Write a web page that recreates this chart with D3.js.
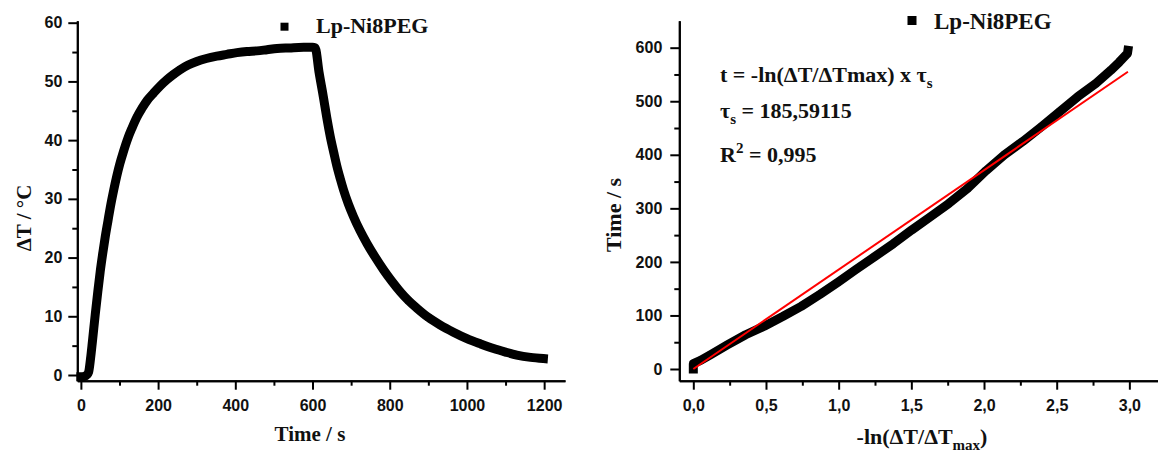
<!DOCTYPE html>
<html>
<head>
<meta charset="utf-8">
<script src="https://cdn.jsdelivr.net/npm/d3@7"></script>
<style>
  html, body { margin: 0; padding: 0; background: #fff; }
  svg { display: block; }
</style>
</head>
<body>
<svg id="chart" width="1158" height="452"></svg>
<script>
// ---------- DATA ----------
const seriesName = "Lp-Ni8PEG";

// Left panel: heating / cooling curve
const timeL = [0, 5, 10, 15, 20, 25, 30, 37, 44, 50, 57, 63, 70, 76, 85, 93, 101, 110, 121, 132, 145, 158, 172, 188, 205, 223, 240, 257, 278, 300, 325, 352, 378, 404, 430, 456, 482, 508, 540, 577, 600, 607, 617, 628, 637, 646, 655, 663, 672, 680, 693, 706, 723, 741, 762, 784, 805, 827, 848, 870, 900, 931, 965, 1000, 1035, 1069, 1100, 1129, 1165, 1198];
const deltaT = [-0.3, -0.3, -0.2, 0.0, 0.5, 2.8, 5.8, 10.2, 14.3, 17.6, 20.9, 23.5, 26.2, 28.5, 31.5, 33.9, 36.0, 38.0, 40.2, 42.0, 43.9, 45.4, 46.8, 48.0, 49.2, 50.3, 51.2, 52.0, 52.8, 53.4, 53.9, 54.3, 54.6, 54.9, 55.1, 55.2, 55.4, 55.6, 55.7, 55.8, 55.8, 55.7, 51.5, 47.4, 43.8, 40.6, 37.9, 35.6, 33.4, 31.6, 29.1, 27.0, 24.6, 22.4, 20.1, 17.9, 16.0, 14.2, 12.7, 11.4, 9.8, 8.5, 7.3, 6.2, 5.3, 4.5, 3.9, 3.4, 3.0, 2.8];

// Right panel: -ln(dT/dTmax) vs cooling time
const lnRatio = [0, 0, 0.05, 0.12, 0.234, 0.36, 0.488, 0.615, 0.742, 0.87, 0.995, 1.12, 1.249, 1.376, 1.503, 1.63, 1.757, 1.886, 2.013, 2.14, 2.267, 2.395, 2.52, 2.645, 2.77, 2.873, 2.93, 2.987, 2.99];
const timeR = [0, 10, 16, 27, 45, 64, 80, 98, 117, 139, 162, 186, 210, 234, 259.6, 284, 309, 337, 370, 400, 425, 452.5, 480.5, 508.5, 533.5, 558, 573, 589.5, 595];

// Linear fit (red line) endpoints
const fitX = [0, 2.99];
const fitY = [0, 555];

// Tick values and labels
const xTicksL = [0, 200, 400, 600, 800, 1000, 1200];
const xMinorL = [100, 300, 500, 700, 900, 1100];
const yTicksL = [0, 10, 20, 30, 40, 50, 60];
const yMinorL = [5, 15, 25, 35, 45, 55];
const xTicksR = [0, 0.5, 1.0, 1.5, 2.0, 2.5, 3.0];
const xTickLabelsR = ["0,0", "0,5", "1,0", "1,5", "2,0", "2,5", "3,0"];
const xMinorR = [0.25, 0.75, 1.25, 1.75, 2.25, 2.75];
const yTicksR = [0, 100, 200, 300, 400, 500, 600];
const yMinorR = [50, 150, 250, 350, 450, 550];

const annotation = {
  eq: "t = -ln(ΔT/ΔTmax) x τ",
  tau: " = 185,59115",
  r2: " = 0,995"
};

// ---------- DRAW ----------
const svg = d3.select("#chart");
const SANS = "'Liberation Sans', Arial, sans-serif";
const SERIF = "'Liberation Serif', 'Times New Roman', serif";

function styleAxis(g) {
  g.select(".domain").attr("stroke", "#000").attr("stroke-width", 2);
  g.selectAll(".tick line").attr("stroke", "#000").attr("stroke-width", 2);
  g.selectAll(".tick text")
    .attr("font-family", SANS).attr("font-weight", "bold")
    .attr("font-size", 16).attr("fill", "#111");
}

function panel(opts) {
  const { xs, ys, xTicks, xMinor, yTicks, yMinor, xFmt, yLabOff } = opts;
  const xBase = ys.range()[0];
  const yBase = xs.range()[0];
  const gxm = svg.append("g").attr("transform", `translate(0,${xBase})`)
    .call(d3.axisBottom(xs).tickValues(xMinor).tickSize(5).tickSizeOuter(0).tickFormat(""));
  const gym = svg.append("g").attr("transform", `translate(${yBase},0)`)
    .call(d3.axisLeft(ys).tickValues(yMinor).tickSize(5).tickSizeOuter(0).tickFormat(""));
  [gxm, gym].forEach(g => styleAxis(g));
  const gx = svg.append("g").attr("transform", `translate(0,${xBase})`)
    .call(d3.axisBottom(xs).tickValues(xTicks).tickSize(9).tickSizeOuter(0).tickFormat(xFmt));
  styleAxis(gx);
  gx.selectAll(".tick text").attr("y", 30).attr("dy", null);
  const gy = svg.append("g").attr("transform", `translate(${yBase},0)`)
    .call(d3.axisLeft(ys).tickValues(yTicks).tickSize(9).tickSizeOuter(0));
  styleAxis(gy);
  gy.selectAll(".tick text").attr("x", yLabOff);
}

// Left panel scales
const xL = d3.scaleLinear().domain([-9.3, 1254]).range([77.3, 565]);
const yL = d3.scaleLinear().domain([-0.97, 60.34]).range([380.7, 20.7]);
panel({ xs: xL, ys: yL, xTicks: xTicksL, xMinor: xMinorL, yTicks: yTicksL, yMinor: yMinorL,
        xFmt: d => d3.format("d")(d), yLabOff: -15 });

const dataL = timeL.map((t, i) => [t, deltaT[i]]);
svg.append("path").datum(dataL)
  .attr("d", d3.line().x(d => xL(d[0])).y(d => yL(d[1])).curve(d3.curveMonotoneX))
  .attr("fill", "none").attr("stroke", "#000").attr("stroke-width", 9)
  .attr("stroke-linejoin", "round").attr("stroke-linecap", "square");
svg.append("g").selectAll("rect").data(dataL).join("rect")
  .attr("x", d => xL(d[0]) - 3).attr("y", d => yL(d[1]) - 3)
  .attr("width", 6).attr("height", 6).attr("fill", "#000");

// Left labels
svg.append("text").attr("x", 310).attr("y", 441).attr("text-anchor", "middle")
  .attr("font-family", SERIF).attr("font-weight", "bold").attr("font-size", 21).attr("fill", "#111")
  .text("Time / s");
svg.append("text").attr("transform", "translate(31,218) rotate(-90)").attr("text-anchor", "middle")
  .attr("font-family", SERIF).attr("font-weight", "bold").attr("font-size", 21).attr("fill", "#111")
  .text("ΔT / °C");
// Left legend
svg.append("rect").attr("x", 280.5).attr("y", 22.7).attr("width", 8).attr("height", 8).attr("fill", "#000");
svg.append("text").attr("x", 316).attr("y", 33).attr("font-family", SERIF).attr("font-weight", "bold")
  .attr("font-size", 22).attr("fill", "#111").text(seriesName);

// Right panel scales
const xR = d3.scaleLinear().domain([-0.0964, 3.197]).range([679.3, 1158]);
const yR = d3.scaleLinear().domain([-21.85, 650.4]).range([380.7, 20.7]);
panel({ xs: xR, ys: yR, xTicks: xTicksR, xMinor: xMinorR, yTicks: yTicksR, yMinor: yMinorR,
        xFmt: (d, i) => xTickLabelsR[i], yLabOff: -17 });

const dataR = lnRatio.map((x, i) => [x, timeR[i]]);
svg.append("path").datum(dataR)
  .attr("d", d3.line().x(d => xR(d[0])).y(d => yR(d[1])))
  .attr("fill", "none").attr("stroke", "#000").attr("stroke-width", 9)
  .attr("stroke-linejoin", "round").attr("stroke-linecap", "square");
svg.append("g").selectAll("rect").data(dataR).join("rect")
  .attr("x", d => xR(d[0]) - 3).attr("y", d => yR(d[1]) - 3)
  .attr("width", 6).attr("height", 6).attr("fill", "#000");

// Fit line
const fitData = fitX.map((x, i) => [x, fitY[i]]);
svg.append("path").datum(fitData)
  .attr("d", d3.line().x(d => xR(d[0])).y(d => yR(d[1])))
  .attr("fill", "none").attr("stroke", "#ff0000").attr("stroke-width", 2);

// Right labels
const xlab = svg.append("text").attr("x", 922).attr("y", 444).attr("text-anchor", "middle")
  .attr("font-family", SERIF).attr("font-weight", "bold").attr("font-size", 22).attr("fill", "#111");
xlab.append("tspan").text("-ln(ΔT/ΔT");
xlab.append("tspan").attr("font-size", 15).attr("dy", 6).text("max");
xlab.append("tspan").attr("dy", -6).text(")");

svg.append("text").attr("transform", "translate(621,215) rotate(-90)").attr("text-anchor", "middle")
  .attr("font-family", SERIF).attr("font-weight", "bold").attr("font-size", 22).attr("fill", "#111")
  .text("Time / s");

// Right legend
svg.append("rect").attr("x", 907.5).attr("y", 16).attr("width", 9).attr("height", 9).attr("fill", "#000");
svg.append("text").attr("x", 934).attr("y", 29.3).attr("font-family", SERIF).attr("font-weight", "bold")
  .attr("font-size", 23).attr("fill", "#111").text(seriesName);

// Annotation
const ann = svg.append("g").attr("font-family", SERIF).attr("font-weight", "bold")
  .attr("font-size", 22).attr("fill", "#111");
const t1 = ann.append("text").attr("x", 720).attr("y", 82);
t1.append("tspan").text(annotation.eq);
t1.append("tspan").attr("font-size", 15).attr("dy", 6).text("s");
const t2 = ann.append("text").attr("x", 720).attr("y", 118);
t2.append("tspan").text("τ");
t2.append("tspan").attr("font-size", 15).attr("dy", 6).text("s");
t2.append("tspan").attr("dy", -6).text(annotation.tau);
const t3 = ann.append("text").attr("x", 720).attr("y", 162);
t3.append("tspan").text("R");
t3.append("tspan").attr("font-size", 15).attr("dy", -9).text("2");
t3.append("tspan").attr("dy", 9).text(annotation.r2);
</script>
</body>
</html>
